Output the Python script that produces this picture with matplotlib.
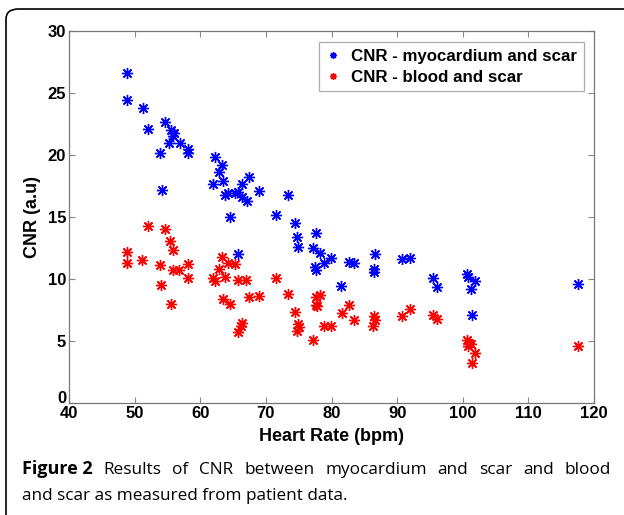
import numpy as np
import matplotlib.pyplot as plt
from matplotlib.patches import FancyBboxPatch
from matplotlib.transforms import ScaledTranslation

# heart rate (bpm) / CNR
hr_myo = [48.8, 48.9, 51.2, 52.0, 54.6, 55.6, 56.0, 55.8, 55.3, 56.9, 58.1, 58.1,
          53.8, 54.1, 62.3, 63.3, 62.8, 61.9, 63.5, 63.8, 64.3, 65.3, 65.7, 66.3,
          67.5, 66.3, 67.1, 69.0, 64.6, 73.3, 71.5, 74.4, 77.6, 74.8, 74.9, 77.2,
          78.3, 79.9, 78.8, 77.5, 77.7, 82.6, 83.4, 86.6, 86.4, 86.5, 81.5, 65.8,
          90.8, 91.9, 95.4, 96.0, 100.7, 100.8, 101.8, 101.25, 101.4, 117.6]
cnr_myo = [26.6, 24.4, 23.8, 22.1, 22.7, 22.0, 21.8, 21.5, 21.0, 21.0, 20.5, 20.2,
           20.2, 17.2, 19.8, 19.2, 18.6, 17.7, 17.9, 16.8, 16.9, 16.9, 17.0, 17.7,
           18.2, 16.6, 16.3, 17.1, 15.0, 16.8, 15.2, 14.5, 13.7, 13.4, 12.6, 12.5,
           12.1, 11.7, 11.3, 11.0, 10.7, 11.4, 11.3, 12.05, 10.6, 10.8, 9.4, 12.05,
           11.6, 11.7, 10.1, 9.35, 10.4, 10.2, 9.85, 9.2, 7.1, 9.57]

hr_blood = [52.0, 54.6, 55.4, 55.8, 48.8, 48.9, 51.1, 53.8, 58.1, 55.8, 56.8, 58.1,
            54.0, 55.6, 63.3, 64.2, 65.3, 62.8, 61.9, 62.3, 63.8, 65.7, 67.0, 63.5,
            64.6, 67.5, 69.0, 66.3, 66.2, 65.8, 71.6, 73.3, 77.7, 78.2, 77.6, 77.8,
            74.5, 82.6, 81.6, 74.9, 75.0, 74.8, 78.8, 79.9, 83.4, 86.5, 86.6, 86.3,
            77.2, 90.8, 91.9, 95.4, 96.0, 100.7, 101.0, 100.8, 101.25, 101.8, 101.4,
            117.6]
cnr_blood = [14.25, 14.0, 13.1, 12.3, 12.2, 11.3, 11.5, 11.1, 11.2, 10.7, 10.75, 10.1,
             9.5, 8.0, 11.8, 11.3, 11.25, 10.8, 10.1, 9.8, 10.2, 9.9, 9.9, 8.4,
             8.0, 8.55, 8.6, 6.45, 6.2, 5.7, 10.1, 8.8, 8.55, 8.7, 7.9, 7.8,
             7.3, 7.9, 7.25, 6.35, 6.1, 5.8, 6.25, 6.25, 6.7, 7.0, 6.7, 6.2,
             5.1, 7.0, 7.6, 7.1, 6.75, 5.05, 4.8, 4.6, 4.75, 4.0, 3.25,
             4.6]

caption_bold = 'Figure 2'
caption_line1 = 'Results of CNR between myocardium and scar and blood'
caption_line2 = 'and scar as measured from patient data.'

plt.rcParams['font.family'] = ['Liberation Sans', 'DejaVu Sans']

W, H = 624, 515
fig = plt.figure(figsize=(W / 100, H / 100), dpi=100)

# rounded panel border (runs off right and bottom)
border = FancyBboxPatch((6 / W, -20 / H), 700 / W, (H - 9 + 20) / H,
                        boxstyle="round,pad=0,rounding_size=0.02",
                        transform=fig.transFigure, fill=False,
                        edgecolor='black', linewidth=1.2, clip_on=False)
fig.patches.append(border)

ax = fig.add_axes([69 / W, 1 - 403 / H, (594 - 69) / W, (403 - 31) / H])

star = (8, 2, 0)
ax.plot(hr_myo, cnr_myo, linestyle='none', marker=star, markersize=8,
        markeredgewidth=1.0, color='#0000ff', label='CNR - myocardium and scar')
ax.plot(hr_blood, cnr_blood, linestyle='none', marker=star, markersize=8,
        markeredgewidth=1.0, color='#ff0000', label='CNR - blood and scar')

ax.set_xlim(40, 120)
ax.set_ylim(0, 30)
ax.set_xticks(np.arange(40, 121, 10))
ax.set_yticks(np.arange(0, 31, 5))
ax.tick_params(direction='in', top=True, right=True, length=4, width=0.8,
               color='#888888', labelsize=12, pad=2)
for lab in ax.get_xticklabels() + ax.get_yticklabels():
    lab.set_fontweight('bold')
# lift the "0" a bit so it does not sit on the "40"
ylabs = ax.get_yticklabels()
ylabs[0].set_transform(ylabs[0].get_transform() +
                       ScaledTranslation(0, 6 / 100, fig.dpi_scale_trans))
for sp in ax.spines.values():
    sp.set_color('#777777')
    sp.set_linewidth(0.9)

ax.set_xlabel('Heart Rate (bpm)', fontsize=13, fontweight='bold', labelpad=5)
ax.set_ylabel('CNR (a.u)', fontsize=13, fontweight='bold', labelpad=5)

leg = ax.legend(loc='upper right', bbox_to_anchor=(584 / W, 1 - 42 / H),
                bbox_transform=fig.transFigure,
                prop={'weight': 'bold', 'size': 12.2},
                frameon=True, fancybox=False, borderaxespad=0, handlelength=0.9,
                handletextpad=0.6, borderpad=0.4, labelspacing=0.35, markerscale=0.6)
leg.get_frame().set_edgecolor('#999999')
leg.get_frame().set_linewidth(0.9)

# justified caption, first line spread from x=22 to x=611
cap_kw = dict(family='Open Sans', va='baseline')
y1 = 1 - 474 / H
y2 = 1 - 500 / H
renderer = fig.canvas.get_renderer()
words = [(caption_bold, 'bold', 13.0)] + \
        [(w, 'normal', 12.4) for w in caption_line1.split()]
objs = [fig.text(0, y1, w, weight=wt, fontsize=fs, **cap_kw) for w, wt, fs in words]
widths = [o.get_window_extent(renderer).width for o in objs]
x0, x1 = 22, 611
gap = (x1 - x0 - sum(widths)) / (len(objs) - 1)
x = x0
for o, w in zip(objs, widths):
    o.set_x(x / W)
    x += w + gap
fig.text(22 / W, y2, caption_line2, fontsize=12.3, **cap_kw)

fig.savefig('out.png', dpi=100)
